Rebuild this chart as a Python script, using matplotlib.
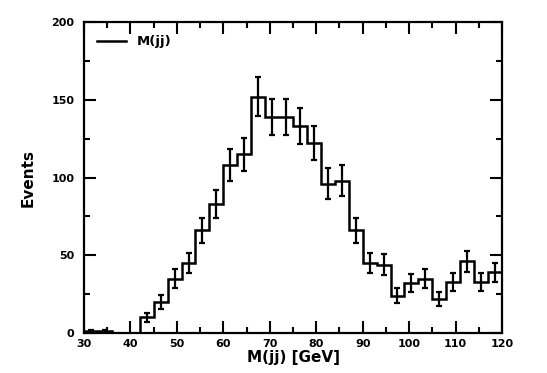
import numpy as np
import matplotlib
matplotlib.use("Agg")
import matplotlib.pyplot as plt
from matplotlib.ticker import MultipleLocator

# histogram M(jj), bins de 3 GeV entre 30 et 120
bin_edges = np.arange(30, 121, 3)
counts = [1, 1, 0, 0, 10, 20, 35, 45, 66, 83,
          108, 115, 152, 139, 139, 133, 122, 96, 98, 66,
          45, 44, 24, 32, 35, 22, 33, 46, 33, 39]

counts = np.array(counts, dtype=float)
centers = 0.5 * (bin_edges[:-1] + bin_edges[1:])
errors = np.sqrt(counts)

fig = plt.figure(figsize=(5.47, 3.73), dpi=100)
ax = fig.add_axes([0.1536, 0.1072, 0.7641, 0.8338])

ax.stairs(counts, bin_edges, color="black", linewidth=1.8, label="M(jj)")
mask = counts > 0
ax.errorbar(centers[mask], counts[mask], yerr=errors[mask], fmt="none",
            ecolor="black", elinewidth=1.6, capsize=2.5, capthick=1.6)

ax.set_xlim(30, 120)
ax.set_ylim(0, 200)
ax.xaxis.set_major_locator(MultipleLocator(10))
ax.xaxis.set_minor_locator(MultipleLocator(5))
ax.yaxis.set_major_locator(MultipleLocator(50))
ax.yaxis.set_minor_locator(MultipleLocator(25))
ax.tick_params(which="both", direction="in", top=True, right=True, width=1.5)
ax.tick_params(which="major", length=8.5, labelsize=8)
ax.tick_params(axis="x", which="major", pad=4)
ax.tick_params(axis="y", which="major", pad=7)
ax.tick_params(which="minor", length=4.5)
for lab in ax.get_xticklabels() + ax.get_yticklabels():
    lab.set_fontweight("bold")
for sp in ax.spines.values():
    sp.set_linewidth(1.6)

ax.set_xlabel("M(jj) [GeV]", fontsize=11, fontweight="bold", labelpad=1)
ax.set_ylabel("Events", fontsize=11, fontweight="bold", labelpad=11)

leg = ax.legend(loc="upper left", frameon=False, handlelength=2.2,
                prop={"weight": "bold", "size": 9.5}, borderaxespad=0.6)

fig.savefig("out.png", dpi=100)
